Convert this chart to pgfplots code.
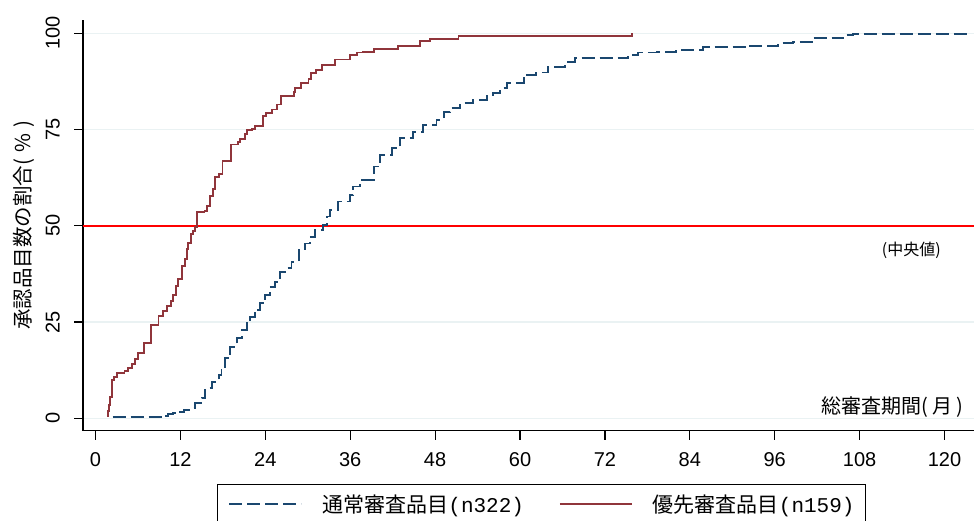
\documentclass[border=0pt]{standalone}
\usepackage{fontspec}
\setmainfont{Liberation Sans}
\newfontfamily\jp{Noto Sans CJK JP}
\newfontfamily\mono{Liberation Mono}
\usepackage{pgfplots}
\pgfplotsset{compat=1.18}
\definecolor{navy}{HTML}{1A476F}
\definecolor{maroon}{HTML}{90353B}
\definecolor{gridc}{HTML}{EAF2F3}
\begin{document}
\begin{tikzpicture}
\path[use as bounding box] (0,0) rectangle (974pt,521pt);
\begin{axis}[
  at={(83pt,90.3pt)}, anchor=south west,
  scale only axis, width=891pt, height=410.7pt,
  xmin=-1.77, xmax=124.17, ymin=-3.22, ymax=103.45,
  axis x line*=bottom, axis y line*=left,
  axis line style={line width=1.3pt, black},
  xtick={0,12,...,120}, ytick={0,25,50,75,100},
  tick align=outside, major tick length=9pt,
  tick style={line width=1.2pt, black},
  ymajorgrids, grid style={gridc, line width=1.5pt},
  /pgf/number format/assume math mode=true,
  ticklabel style={font=\fontsize{20}{24}\selectfont, inner sep=0pt},
  xticklabel style={yshift=-5pt, anchor=north},
  yticklabel style={xshift=-6pt, rotate=90, anchor=south},
  xticklabel shift=8pt, yticklabel shift=8pt,
  clip=false,
  legend columns=2,
  legend image code/.code={\draw[#1] (0pt,0pt) -- (72pt,0pt);},
  legend style={at={(0.1504,-0.1298)}, anchor=north west, draw=black, line width=1pt,
    inner xsep=11pt, inner ysep=10pt, font=\fontsize{21}{25}\selectfont,
    nodes={inner sep=0pt},
    /tikz/every odd column/.append style={column sep=20pt},
    /tikz/every even column/.append style={column sep=35pt}},
]
\addplot[red, line width=1.6pt, forget plot] coordinates {(-1.77,50) (124.17,50)};
\addplot[const plot, navy, line width=1.9pt, dash pattern=on 13pt off 5pt] coordinates {
(2.4,0.3) (9.8,0.6) (10.3,1.0) (11.0,1.3) (11.9,1.7) (12.5,2.2) (13.4,2.6) (14.1,3.9) (15.0,5.2) (15.5,7.8) (16.4,9.5) (17.4,11.3) (17.8,13.4) (18.3,15.6) (19.0,18.6) (19.95,20.8) (20.7,23.0) (21.4,24.7) (21.85,26.4) (22.5,28.2) (23.25,29.9) (23.95,32.1) (24.65,34.2) (25.4,35.5) (26.1,38.1) (27.0,39.0) (27.7,40.7) (28.7,43.7) (29.6,45.4) (30.3,47.2) (31.0,48.9) (32.2,50.2) (32.7,52.4) (33.15,54.1) (34.3,56.3) (36.0,58.0) (36.4,60.2) (37.4,61.9) (39.3,65.4) (40.2,68.4) (41.9,70.1) (43.0,72.7) (44.9,74.4) (46.3,76.2) (48.2,77.5) (49.2,79.6) (50.1,80.5) (51.5,81.8) (53.4,82.7) (55.3,83.7) (56.2,84.4) (57.2,85.7) (58.2,87.2) (60.5,89.2) (62.3,89.8) (64.0,91.3) (66.4,92.6) (67.8,93.5) (75.3,94.4) (76.7,95.0) (79.3,95.2) (82.1,95.7) (85.9,96.4) (92.0,96.7) (96.5,97.4) (98.6,97.7) (101.5,98.7) (105.7,99.5) (107.1,99.7) (123.6,100)
};
\addlegendentry{{\jp 通常審査品目}{\mono (n322)}}
\addplot[const plot, maroon, line width=1.9pt] coordinates {
(1.6,0.6) (1.8,1.9) (1.95,3.5) (2.1,5.5) (2.3,10.0) (2.6,10.7) (3.0,11.8) (4.1,12.3) (4.6,13.1) (5.1,14.0) (5.6,15.3) (6.05,17.0) (6.9,19.5) (7.9,24.2) (8.9,26.5) (9.6,27.8) (10.1,29.1) (10.7,30.4) (11.0,32.1) (11.35,34.3) (11.7,36.1) (12.25,39.5) (12.65,41.3) (12.9,43.9) (13.1,45.6) (13.45,47.8) (13.8,48.7) (14.1,49.6) (14.4,53.5) (15.4,53.9) (15.7,55.2) (16.2,57.8) (16.65,59.5) (16.9,62.6) (17.45,63.4) (17.95,66.9) (19.2,71.1) (20.2,71.8) (20.45,72.6) (21.1,73.9) (21.4,74.8) (22.1,75.2) (22.5,75.9) (23.7,78.6) (24.1,79.3) (24.9,80.2) (25.6,81.5) (26.2,83.7) (28.0,84.8) (28.2,85.8) (29.1,87.2) (30.1,88.2) (30.4,89.6) (31.2,90.5) (32.0,91.7) (33.85,93.2) (36.0,94.4) (36.9,95.0) (37.85,95.2) (39.3,95.9) (42.8,96.7) (45.9,98.1) (47.3,98.5) (51.3,99.4) (75.8,100)
};
\addlegendentry{{\jp 優先審査品目}{\mono (n159)}}
\node[font=\jp\fontsize{16}{19}\selectfont] at (axis cs:115.3,43.5) {(中央値)};
\node[anchor=east, inner sep=0pt, font=\jp\fontsize{20}{24}\selectfont] at (axis cs:122.7,2.8) {総審査期間(\hspace{4pt}月\hspace{4pt})};
\node[rotate=90, inner sep=0pt, font=\jp\fontsize{20.5}{24}\selectfont] at (rel axis cs:-0.0662,0.5) {承認品目数の割合(\hspace{6pt}\%\hspace{6pt})};
\end{axis}
\end{tikzpicture}
\end{document}
